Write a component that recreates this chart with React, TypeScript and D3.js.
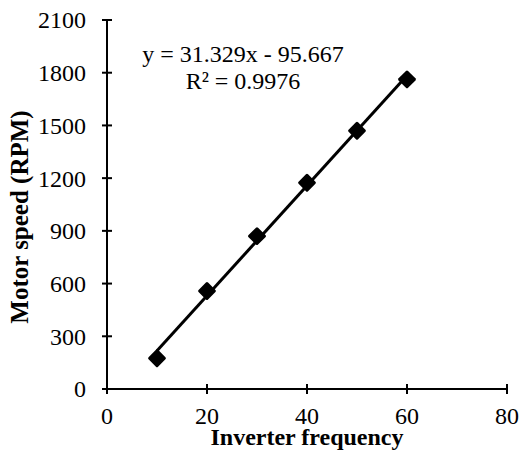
import React from "react";
import * as d3 from "d3";

const frequencies = [10, 20, 30, 40, 50, 60];
const speeds = [175, 558, 870, 1174, 1470, 1762];
const xTicks = [0, 20, 40, 60, 80];
const yTicks = [0, 300, 600, 900, 1200, 1500, 1800, 2100];
const slope = 31.329;
const intercept = -95.667;
const equationText = "y = 31.329x - 95.667";
const r2Text = "R² = 0.9976";
const xTitle = "Inverter frequency";
const yTitle = "Motor speed (RPM)";

export default function App() {
  const W = 519, H = 450;
  const x = d3.scaleLinear().domain([0, 80]).range([107, 507]);
  const y = d3.scaleLinear().domain([0, 2100]).range([389, 20]);
  const font = "Liberation Serif";
  const fitX = d3.extent(frequencies) as [number, number];
  const line = d3.line<number>().x((d) => x(d)).y((d) => y(slope * d + intercept));
  const r = 9.5;
  return (
    <svg width={W} height={H} style={{ position: "absolute", left: 0, top: 0, background: "#fff" }}>
      <rect width={W} height={H} fill="#fff" />
      <line x1={x(0)} x2={x(0)} y1={y(2100)} y2={y(0)} stroke="#000" strokeWidth={2} />
      <line x1={x(0) - 5} x2={x(80)} y1={y(0)} y2={y(0)} stroke="#000" strokeWidth={2} />
      {yTicks.map((t) => (
        <g key={"y" + t}>
          <line x1={x(0) - 5} x2={x(0) + 5} y1={y(t)} y2={y(t)} stroke="#000" strokeWidth={2} />
          <text x={86} y={y(t)} dy="0.35em" textAnchor="end" fontSize={24} fontFamily={font}>{t}</text>
        </g>
      ))}
      {xTicks.map((t) => (
        <g key={"x" + t}>
          <line x1={x(t)} x2={x(t)} y1={y(0) - 5} y2={y(0) + 5} stroke="#000" strokeWidth={2} />
          <text x={x(t)} y={y(0) + 35} textAnchor="middle" fontSize={24} fontFamily={font}>{t}</text>
        </g>
      ))}
      <path d={line(fitX) || ""} stroke="#000" strokeWidth={3} fill="none" />
      {frequencies.map((f, i) => (
        <rect
          key={"p" + i}
          x={x(f) - r / Math.SQRT2}
          y={y(speeds[i]) - r / Math.SQRT2}
          width={(2 * r) / Math.SQRT2}
          height={(2 * r) / Math.SQRT2}
          rx={1.5}
          fill="#000"
          transform={`rotate(45 ${x(f)} ${y(speeds[i])})`}
        />
      ))}
      <text x={243} y={62} textAnchor="middle" fontSize={24} fontFamily={font}>{equationText}</text>
      <text x={243} y={89} textAnchor="middle" fontSize={24} fontFamily={font}>{r2Text}</text>
      <text x={307} y={445} textAnchor="middle" fontSize={24} fontWeight="bold" fontFamily={font}>{xTitle}</text>
      <text transform={`translate(28, 217) rotate(-90)`} textAnchor="middle" fontSize={25} fontWeight="bold" fontFamily={font}>{yTitle}</text>
    </svg>
  );
}
